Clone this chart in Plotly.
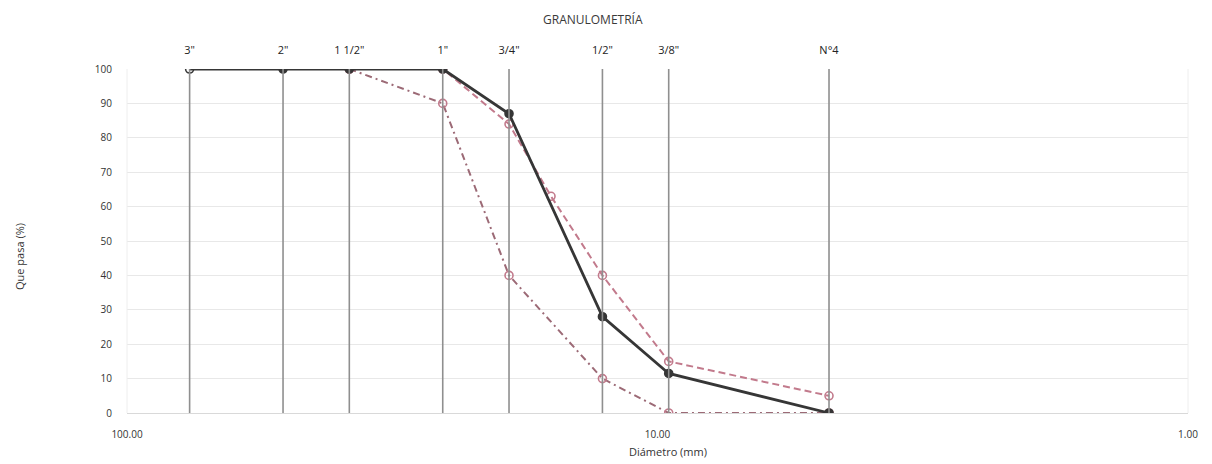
import math
import plotly.graph_objects as go

# Sieve data
sieve_labels = ['3"', '2"', '1 1/2"', '1"', '3/4"', '1/2"', '3/8"', 'N°4']
sieve_mm = [76.2, 50.8, 38.1, 25.4, 19.05, 12.7, 9.525, 4.75]

# Sample gradation (solid)
muestra_mm = [76.2, 50.8, 38.1, 25.4, 19.05, 12.7, 9.525, 4.75]
muestra_pasa = [100, 100, 100, 100, 87, 28, 11.5, 0]

# Upper limit (dashed)
sup_mm = [38.1, 25.4, 19.05, 15.875, 12.7, 9.525, 4.75]
sup_pasa = [100, 100, 84, 63, 40, 15, 5]

# Lower limit (dash-dot)
inf_mm = [38.1, 25.4, 19.05, 12.7, 9.525, 4.75]
inf_pasa = [100, 90, 40, 10, 0, 0]

y_ticks = list(range(0, 101, 10))
x_ticks = [100, 10, 1]
x_ticktext = ["100.00", "10.00", "1.00"]

pink = "#c27a8c"
pink2 = "#9c6a76"
dark = "#363636"

fig = go.Figure()

# Vertical sieve lines (on the top axis)
for s in sieve_mm:
    fig.add_trace(go.Scatter(x=[s, s], y=[0, 100], mode="lines", xaxis="x2",
                             line=dict(color="#8f8f8f", width=1.6),
                             hoverinfo="skip", showlegend=False))

fig.add_trace(go.Scatter(x=inf_mm, y=inf_pasa, mode="lines+markers",
                         line=dict(color=pink2, width=2, dash="7px,4px,2px,4px"),
                         marker=dict(symbol="circle-open", size=8, color=pink, line=dict(width=1.6)),
                         showlegend=False))
fig.add_trace(go.Scatter(x=sup_mm, y=sup_pasa, mode="lines+markers",
                         line=dict(color=pink, width=2, dash="7px,4px"),
                         marker=dict(symbol="circle-open", size=8, color=pink, line=dict(width=1.6)),
                         showlegend=False))
fig.add_trace(go.Scatter(x=muestra_mm, y=muestra_pasa, mode="lines+markers",
                         line=dict(color=dark, width=2.8),
                         marker=dict(symbol=["circle-open"] + ["circle"] * (len(muestra_mm) - 1),
                                     size=8, color=dark, line=dict(width=1.6, color=dark)),
                         showlegend=False))

fig.update_layout(
    width=1212, height=464,
    margin=dict(l=127, r=24, t=69, b=51),
    paper_bgcolor="white", plot_bgcolor="white",
    font=dict(family="Open Sans, Liberation Sans, sans-serif", color="#404040", size=10),
    xaxis=dict(type="log", range=[2, 0], tickvals=x_ticks, ticktext=x_ticktext,
               showgrid=False, showline=True, linecolor="#d9d9d9", linewidth=1,
               mirror=False, ticks="", ticklabelstandoff=12,
               tickfont=dict(size=10, color="#333333"), zeroline=False),
    xaxis2=dict(type="log", range=[2, 0], overlaying="x", side="top",
                tickvals=sieve_mm, ticktext=sieve_labels, showgrid=False,
                ticks="", ticklabelstandoff=12,
                tickfont=dict(size=11, color="#222222", family="Open Sans, sans-serif"),
                showline=False, zeroline=False),
    yaxis=dict(range=[0, 100], tickvals=y_ticks, showgrid=True, gridcolor="#e8e8e8",
               gridwidth=1, showline=False, zeroline=False, ticks="", ticklabelstandoff=14,
               tickfont=dict(size=10, color="#333333")),
    shapes=[
        dict(type="line", xref="paper", yref="paper", x0=0, x1=0, y0=0, y1=1,
             line=dict(color="#eeeeee", width=1)),
        dict(type="line", xref="paper", yref="paper", x0=1, x1=1, y0=0, y1=1,
             line=dict(color="#eeeeee", width=1)),
    ],
    annotations=[
        dict(text="GRANULOMETRÍA", xref="paper", yref="paper", x=(593 - 127) / 1061, y=1 + (69 - 20) / 344,
             showarrow=False, font=dict(size=12, color="#3a3a3a"), xanchor="center", yanchor="middle"),
        dict(text="Diámetro (mm)", xref="paper", yref="paper", x=(668 - 127) / 1061, y=-(451 - 413) / 344,
             showarrow=False, font=dict(size=11, color="#333333"), xanchor="center", yanchor="middle"),
        dict(text="Que pasa (%)", xref="paper", yref="paper", x=-(127 - 19) / 1061, y=(413 - 257) / 344,
             textangle=-90, showarrow=False, font=dict(size=11, color="#333333"),
             xanchor="center", yanchor="middle"),
    ],
)

fig.write_html("out.html")
